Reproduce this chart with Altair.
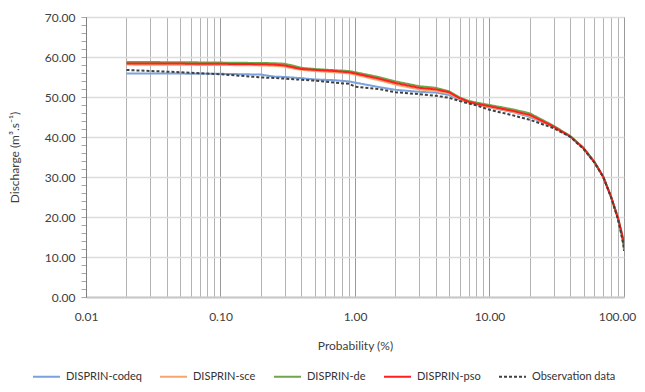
import altair as alt
import pandas as pd

# Exceedance probability (%)
prob = [0.02, 0.05, 0.1, 0.2, 0.25, 0.3, 0.35, 0.4, 0.5, 0.7, 0.9, 1.0, 1.5, 2.0,
        3.0, 4.0, 5.0, 6.0, 7.0, 8.0, 10.0, 15.0, 20.0, 30.0, 40.0, 50.0, 60.0,
        70.0, 80.0, 90.0, 95.0, 99.0, 100.0]

codeq = [55.9, 55.85, 55.8, 55.6, 55.1, 55.0, 54.85, 54.7, 54.4, 54.2, 53.9, 53.6, 52.5, 51.8,
         51.3, 51.1, 50.5, 49.3, 48.7, 48.3, 47.4, 46.2, 45.0, 42.5, 40.1, 37.2, 33.8,
         30.1, 25.1, 19.8, 16.5, 14.0, 13.0]
sce = [58.1, 58.05, 58.0, 57.9, 57.8, 57.6, 57.1, 56.8, 56.5, 56.2, 55.9, 55.6, 54.2, 53.1,
       51.9, 51.5, 50.9, 49.5, 48.6, 48.1, 47.5, 46.3, 45.3, 42.5, 40.1, 37.2, 33.8,
       30.1, 25.1, 19.9, 16.7, 14.0, 13.1]
de = [58.75, 58.7, 58.6, 58.5, 58.45, 58.3, 57.8, 57.3, 57.0, 56.7, 56.5, 56.2, 55.0, 53.9,
      52.7, 52.3, 51.4, 49.9, 49.0, 48.6, 48.0, 46.9, 45.9, 42.8, 40.2, 37.3, 33.9,
      30.1, 25.1, 19.8, 16.4, 13.2, 11.8]
pso = [58.4, 58.35, 58.3, 58.2, 58.1, 57.9, 57.4, 57.0, 56.8, 56.5, 56.2, 55.9, 54.6, 53.5,
       52.3, 51.9, 51.2, 49.7, 48.8, 48.3, 47.7, 46.5, 45.5, 42.6, 40.1, 37.2, 33.8,
       30.1, 25.1, 19.9, 16.8, 14.2, 13.3]
obs = [56.75, 56.2, 55.7, 54.9, 54.75, 54.6, 54.45, 54.3, 54.1, 53.6, 53.3, 52.6, 52.0, 51.2,
       50.7, 50.3, 49.8, 49.0, 48.4, 47.9, 46.8, 45.4, 44.3, 42.2, 40.0, 37.0, 33.7,
       30.0, 25.0, 19.5, 16.0, 13.0, 11.5]

series_names = ["DISPRIN-codeq", "DISPRIN-sce", "DISPRIN-de", "DISPRIN-pso", "Observation data"]
series_values = [codeq, sce, de, pso, obs]
series_colors = ["#7aa3dd", "#f5a66e", "#6fa54b", "#ff1f1f", "#404040"]
series_dash = [[1, 0], [1, 0], [1, 0], [1, 0], [3, 2]]

y_tick_values = list(range(0, 71, 2))
x_tick_values = [m * 10.0 ** e for e in range(-2, 2) for m in range(1, 10)] + [100.0]

rows = []
for i, (name, vals) in enumerate(zip(series_names, series_values)):
    for p, v in zip(prob, vals):
        rows.append({"Series": name, "Probability": p, "Discharge": v, "ord": i})
df = pd.DataFrame(rows)

FONT = "Lato"
decade_test = "abs(log(datum.value)/LN10 - round(log(datum.value)/LN10)) < 0.001"


def make_legend():
    return alt.Legend(
        title=None,
        orient="none",
        direction="horizontal",
        legendX=-54,
        legendY=345,
        symbolType="stroke",
        symbolSize=729,
        symbolStrokeWidth=2,
        labelOffset=5,
        columnPadding=14,
        padding=0,
        columns=5,
        labelFontSize=11,
    )


chart = alt.Chart(df).mark_line(strokeWidth=2, clip=True).encode(
    x=alt.X(
        "Probability:Q",
        scale=alt.Scale(type="log", domain=[0.01, 100], nice=False),
        axis=alt.Axis(
            title="Probability (%)",
            values=x_tick_values,
            labelExpr=decade_test + " ? format(datum.value, '.2f') : ''",
            labelOverlap=False,
            labelFlush=False,
            labelOffset={"condition": {"test": "datum.value >= 99", "value": -7}, "value": 0},
            ticks=False,
            labelPadding=14,
            titlePadding=18,
            grid=True,
            gridColor={"condition": {"test": decade_test, "value": "#999999"}, "value": "#b3b3b3"},
            gridWidth=1,
            domainColor="#c8c8c8",
            domainWidth=2,
        ),
    ),
    y=alt.Y(
        "Discharge:Q",
        scale=alt.Scale(domain=[0, 70], nice=False),
        axis=alt.Axis(
            title="Discharge (m³.s⁻¹)",
            values=y_tick_values,
            labelExpr="datum.value % 10 === 0 ? format(datum.value, '.2f') : ''",
            labelOverlap=False,
            tickSize=5,
            tickColor="#a6a6a6",
            labelPadding=6,
            titlePadding=23,
            grid=True,
            gridColor="#dcdcdc",
            gridWidth=1.5,
            gridOpacity={"condition": {"test": "datum.value % 10 === 0", "value": 1}, "value": 0},
            domainColor="#7f7f7f",
        ),
    ),
    color=alt.Color(
        "Series:N",
        scale=alt.Scale(domain=series_names, range=series_colors),
        legend=make_legend(),
    ),
    strokeDash=alt.StrokeDash(
        "Series:N",
        scale=alt.Scale(domain=series_names, range=series_dash),
        legend=make_legend(),
    ),
    order=alt.Order("ord:Q"),
    detail="Series:N",
).properties(
    width=538,
    height=280,
    autosize=alt.AutoSizeParams(type="none"),
    padding={"left": 78, "top": 9, "right": 13, "bottom": 87},
).configure_view(
    stroke="#7f7f7f",
    strokeWidth=1,
).configure_axis(
    labelFont=FONT,
    titleFont=FONT,
    labelFontSize=12,
    titleFontSize=12,
    labelColor="#404040",
    titleColor="#404040",
    titleFontWeight="normal",
).configure_legend(
    labelFont=FONT,
    labelColor="#333333",
)

chart.save("out.html", embed_options={"renderer": "svg", "actions": False})
